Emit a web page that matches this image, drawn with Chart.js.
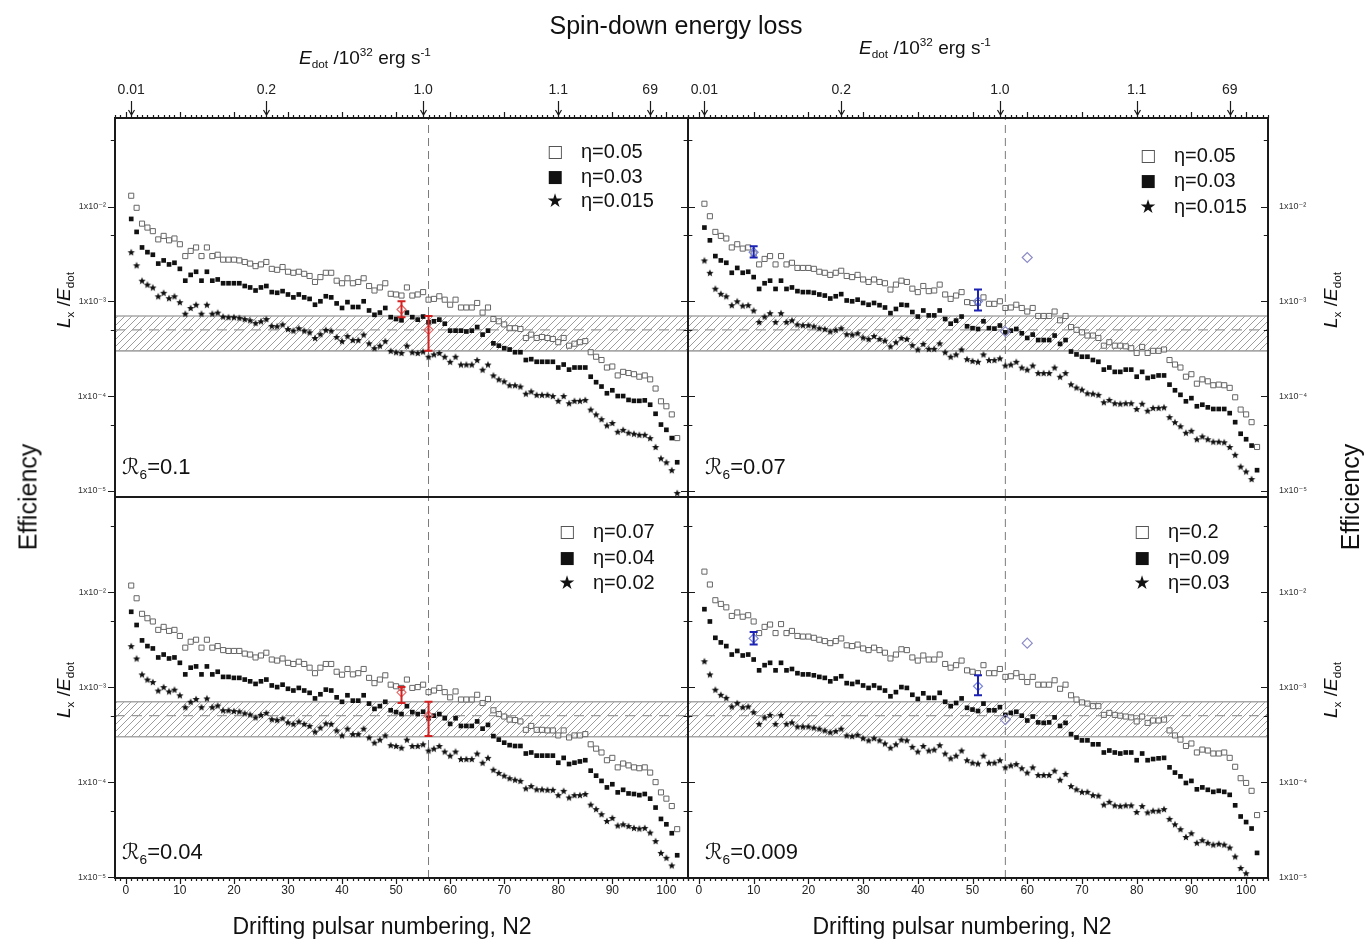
<!DOCTYPE html>
<html>
<head>
<meta charset="utf-8">
<script src="https://cdn.jsdelivr.net/npm/chart.js@4.4.0/dist/chart.umd.min.js"></script>
<style>
  body { margin: 0; background: #fff; }
  #page { position: relative; width: 1368px; height: 951px; overflow: hidden;
          font-family: 'Liberation Sans', Arial, 'DejaVu Sans', sans-serif; color: #111; }
  canvas.panel { position: absolute; left: 0; top: 0; }
  .txt { position: absolute; white-space: nowrap; line-height: 1; }
  .c { transform: translate(-50%, -50%); }
  .v { transform: translate(-50%, -50%) rotate(-90deg); }
  .l { transform: translate(0, -50%); }
  .txt sub, .txt sup { font-size: 0.62em; line-height: 0; }
  .sym { font-family: 'DejaVu Sans', sans-serif; }
</style>
</head>
<body>
<div id="page">
  <canvas id="cTL" class="panel" width="1368" height="951"></canvas>
  <canvas id="cTR" class="panel" width="1368" height="951"></canvas>
  <canvas id="cBL" class="panel" width="1368" height="951"></canvas>
  <canvas id="cBR" class="panel" width="1368" height="951"></canvas>

  <div class="txt c" style="left:676px;top:25px;font-size:25px">Spin-down energy loss</div>
  <div class="txt c" style="left:365px;top:57px;font-size:19px"><i>E</i><sub>dot</sub> /10<sup>32</sup> erg s<sup>-1</sup></div>
  <div class="txt c" style="left:925px;top:47px;font-size:19px"><i>E</i><sub>dot</sub> /10<sup>32</sup> erg s<sup>-1</sup></div>

  <div class="txt v" style="left:28px;top:497px;font-size:25px">Efficiency</div>
  <div class="txt v" style="left:1350px;top:497px;font-size:25px">Efficiency</div>
  <div class="txt v" style="left:63px;top:300px;font-size:19px"><i>L</i><sub>x</sub> /<i>E</i><sub>dot</sub></div>
  <div class="txt v" style="left:63px;top:690px;font-size:19px"><i>L</i><sub>x</sub> /<i>E</i><sub>dot</sub></div>
  <div class="txt v" style="left:1330px;top:300px;font-size:19px"><i>L</i><sub>x</sub> /<i>E</i><sub>dot</sub></div>
  <div class="txt v" style="left:1330px;top:690px;font-size:19px"><i>L</i><sub>x</sub> /<i>E</i><sub>dot</sub></div>

  <div class="txt c" style="left:382px;top:926px;font-size:23px">Drifting pulsar numbering, N2</div>
  <div class="txt c" style="left:962px;top:926px;font-size:23px">Drifting pulsar numbering, N2</div>

  <div class="txt l" style="left:122px;top:467px;font-size:22px"><span class="sym"><i>ℛ</i></span><sub>6</sub>=0.1</div>
  <div class="txt l" style="left:705px;top:467px;font-size:22px"><span class="sym"><i>ℛ</i></span><sub>6</sub>=0.07</div>
  <div class="txt l" style="left:122px;top:852px;font-size:22px"><span class="sym"><i>ℛ</i></span><sub>6</sub>=0.04</div>
  <div class="txt l" style="left:705px;top:852px;font-size:22px"><span class="sym"><i>ℛ</i></span><sub>6</sub>=0.009</div>
</div>

<script>
const FONT = "'Liberation Sans', Arial, 'DejaVu Sans', sans-serif";
Chart.defaults.font.family = FONT;

// x: drifting pulsar numbering N2, one point per pulsar
const pulsarN = Array.from({ length: 102 }, (_, i) => i + 1);

// axes
const xMin = -2, xMax = 104;
const yRangeTop = [8.6e-6, 8.6e-2];
const yRangeBottom = [9.8e-6, 1.0e-1];
const xTickValues = [0, 10, 20, 30, 40, 50, 60, 70, 80, 90, 100];
const yTickValues = [1e-5, 1e-4, 1e-3, 1e-2];
const yTickLabels = ['1x10⁻⁵', '1x10⁻⁴', '1x10⁻³', '1x10⁻²'];
const yMinorValues = [5e-5, 5e-4, 5e-3, 5e-2];

// top axis: spin-down energy loss Edot / 1e32 erg/s
const edotTickN = [1, 26, 55, 80, 97];
const edotTickLabels = ['0.01', '0.2', '1.0', '1.1', '69'];

// hatched band and reference line
const bandLevels = [3e-4, 5e-4, 7e-4];
const edotRefN = 56;

// ---- panel R6=0.1 ----
const tlEta = ['η=0.05', 'η=0.03', 'η=0.015'];
const tlOpen = [1.3e-2, 9.7e-3, 6.6e-3, 6.0e-3, 5.5e-3, 4.5e-3, 4.9e-3, 4.4e-3, 4.6e-3, 4.0e-3,
  3.0e-3, 3.4e-3, 3.7e-3, 3.0e-3, 3.7e-3, 3.0e-3, 3.1e-3, 2.75e-3, 2.75e-3, 2.75e-3,
  2.7e-3, 2.6e-3, 2.5e-3, 2.35e-3, 2.45e-3, 2.6e-3, 2.2e-3, 2.15e-3, 2.3e-3, 2.05e-3,
  2.0e-3, 2.05e-3, 1.95e-3, 1.85e-3, 1.6e-3, 1.8e-3, 2.0e-3, 2.0e-3, 1.65e-3, 1.55e-3,
  1.75e-3, 1.55e-3, 1.6e-3, 1.75e-3, 1.45e-3, 1.3e-3, 1.4e-3, 1.55e-3, 1.2e-3, 1.18e-3,
  1.15e-3, 1.4e-3, 1.15e-3, 1.18e-3, 1.25e-3, 1.04e-3, 1.06e-3, 1.13e-3, 1.04e-3, 9.2e-4,
  1.04e-3, 8.6e-4, 8.6e-4, 8.6e-4, 9.6e-4, 7.6e-4, 8.6e-4, 6.5e-4, 6.15e-4, 5.7e-4,
  5.2e-4, 5.2e-4, 5.1e-4, 4.1e-4, 4.45e-4, 4.1e-4, 4.2e-4, 4.1e-4, 4.0e-4, 3.7e-4,
  4.1e-4, 3.4e-4, 3.57e-4, 3.7e-4, 3.8e-4, 2.9e-4, 2.6e-4, 2.4e-4, 2.0e-4, 2.05e-4,
  1.65e-4, 1.8e-4, 1.75e-4, 1.7e-4, 1.6e-4, 1.65e-4, 1.5e-4, 1.2e-4, 8.8e-5, 7.8e-5,
  6.4e-5, 3.6e-5];
const tlFilled = [7.4e-3, 5.4e-3, 3.7e-3, 3.3e-3, 3.1e-3, 2.5e-3, 2.7e-3, 2.45e-3, 2.55e-3, 2.2e-3,
  1.65e-3, 1.9e-3, 2.05e-3, 1.65e-3, 2.05e-3, 1.65e-3, 1.7e-3, 1.55e-3, 1.55e-3, 1.55e-3,
  1.55e-3, 1.45e-3, 1.4e-3, 1.3e-3, 1.4e-3, 1.45e-3, 1.25e-3, 1.23e-3, 1.28e-3, 1.18e-3,
  1.1e-3, 1.18e-3, 1.1e-3, 1.06e-3, 9.2e-4, 1.0e-3, 1.13e-3, 1.1e-3, 9.5e-4, 8.5e-4,
  9.8e-4, 8.7e-4, 8.7e-4, 1.0e-3, 8.0e-4, 7.2e-4, 7.6e-4, 8.5e-4, 6.8e-4, 6.5e-4,
  6.3e-4, 7.6e-4, 6.8e-4, 6.4e-4, 6.9e-4, 6.0e-4, 6.15e-4, 6.4e-4, 5.8e-4, 4.9e-4,
  4.9e-4, 4.9e-4, 4.8e-4, 4.9e-4, 5.35e-4, 4.45e-4, 4.9e-4, 3.6e-4, 3.4e-4, 3.2e-4,
  3.1e-4, 2.9e-4, 2.9e-4, 2.4e-4, 2.45e-4, 2.3e-4, 2.3e-4, 2.3e-4, 2.3e-4, 2.0e-4,
  2.15e-4, 1.9e-4, 2.0e-4, 2.0e-4, 2.0e-4, 1.6e-4, 1.4e-4, 1.26e-4, 1.07e-4, 1.15e-4,
  1.0e-4, 1.0e-4, 9.1e-5, 8.9e-5, 8.9e-5, 9.0e-5, 8.1e-5, 6.5e-5, 5.0e-5, 4.4e-5,
  3.6e-5, 2.0e-5];
const tlStar = [3.3e-3, 2.4e-3, 1.65e-3, 1.5e-3, 1.4e-3, 1.13e-3, 1.23e-3, 1.08e-3, 1.13e-3, 9.8e-4,
  7.4e-4, 8.5e-4, 9.2e-4, 7.4e-4, 9.2e-4, 7.4e-4, 7.6e-4, 6.9e-4, 6.8e-4, 6.8e-4,
  6.7e-4, 6.5e-4, 6.3e-4, 5.9e-4, 6.15e-4, 6.5e-4, 5.5e-4, 5.45e-4, 5.7e-4, 5.1e-4,
  4.9e-4, 5.2e-4, 4.9e-4, 4.7e-4, 4.1e-4, 4.5e-4, 5.0e-4, 4.9e-4, 4.2e-4, 3.8e-4,
  4.3e-4, 3.9e-4, 3.9e-4, 4.45e-4, 3.6e-4, 3.2e-4, 3.4e-4, 3.8e-4, 3.0e-4, 2.9e-4,
  2.85e-4, 3.4e-4, 2.9e-4, 2.85e-4, 2.95e-4, 2.6e-4, 2.75e-4, 2.85e-4, 2.6e-4, 2.3e-4,
  2.6e-4, 2.15e-4, 2.15e-4, 2.15e-4, 2.4e-4, 1.9e-4, 2.15e-4, 1.65e-4, 1.5e-4, 1.43e-4,
  1.3e-4, 1.3e-4, 1.26e-4, 1.06e-4, 1.12e-4, 1.03e-4, 1.03e-4, 1.03e-4, 1.0e-4, 8.9e-5,
  1.0e-4, 8.4e-5, 8.9e-5, 8.9e-5, 9.1e-5, 7.2e-5, 6.4e-5, 5.7e-5, 4.9e-5, 5.2e-5,
  4.2e-5, 4.4e-5, 4.1e-5, 4.0e-5, 3.9e-5, 3.9e-5, 3.6e-5, 2.9e-5, 2.2e-5, 2.0e-5,
  1.65e-5, 9.5e-6];

// ---- panel R6=0.07 ----
const trEta = ['η=0.05', 'η=0.03', 'η=0.015'];
const trOpen = [1.07e-2, 7.9e-3, 5.4e-3, 4.9e-3, 4.6e-3, 3.7e-3, 4.0e-3, 3.6e-3, 3.7e-3, 3.2e-3,
  2.45e-3, 2.8e-3, 3.0e-3, 2.45e-3, 3.0e-3, 2.45e-3, 2.55e-3, 2.25e-3, 2.25e-3, 2.25e-3,
  2.2e-3, 2.05e-3, 2.0e-3, 1.9e-3, 2.0e-3, 2.1e-3, 1.85e-3, 1.8e-3, 1.9e-3, 1.7e-3,
  1.6e-3, 1.7e-3, 1.6e-3, 1.55e-3, 1.33e-3, 1.5e-3, 1.65e-3, 1.6e-3, 1.36e-3, 1.25e-3,
  1.45e-3, 1.28e-3, 1.3e-3, 1.5e-3, 1.18e-3, 1.06e-3, 1.15e-3, 1.25e-3, 9.8e-4, 9.6e-4,
  9.6e-4, 1.1e-3, 9.4e-4, 9.4e-4, 1.0e-3, 8.5e-4, 8.6e-4, 9.2e-4, 8.5e-4, 7.8e-4,
  8.5e-4, 7.0e-4, 7.0e-4, 7.0e-4, 7.8e-4, 6.3e-4, 7.0e-4, 5.35e-4, 5.0e-4, 4.7e-4,
  4.35e-4, 4.35e-4, 4.1e-4, 3.4e-4, 3.7e-4, 3.4e-4, 3.4e-4, 3.35e-4, 3.2e-4, 2.85e-4,
  3.3e-4, 2.85e-4, 3.0e-4, 3.0e-4, 3.1e-4, 2.4e-4, 2.15e-4, 2.0e-4, 1.6e-4, 1.7e-4,
  1.35e-4, 1.5e-4, 1.43e-4, 1.3e-4, 1.32e-4, 1.3e-4, 1.22e-4, 9.7e-5, 7.2e-5, 6.4e-5,
  5.3e-5, 2.9e-5];
const trFilled = [6.0e-3, 4.4e-3, 3.0e-3, 2.7e-3, 2.55e-3, 2.0e-3, 2.25e-3, 2.0e-3, 2.05e-3, 1.8e-3,
  1.35e-3, 1.55e-3, 1.65e-3, 1.35e-3, 1.65e-3, 1.35e-3, 1.4e-3, 1.28e-3, 1.25e-3, 1.25e-3,
  1.23e-3, 1.18e-3, 1.15e-3, 1.07e-3, 1.13e-3, 1.19e-3, 1.02e-3, 1.0e-3, 1.04e-3, 9.6e-4,
  9.2e-4, 9.6e-4, 9.1e-4, 8.6e-4, 7.5e-4, 8.3e-4, 9.2e-4, 9.1e-4, 7.7e-4, 6.9e-4,
  8.0e-4, 7.1e-4, 7.1e-4, 8.0e-4, 6.5e-4, 5.8e-4, 6.25e-4, 6.9e-4, 5.45e-4, 5.2e-4,
  5.1e-4, 6.15e-4, 5.2e-4, 5.15e-4, 5.55e-4, 4.7e-4, 4.9e-4, 5.1e-4, 4.6e-4, 4.1e-4,
  4.45e-4, 3.9e-4, 3.9e-4, 3.9e-4, 4.35e-4, 3.55e-4, 3.9e-4, 2.95e-4, 2.75e-4, 2.6e-4,
  2.6e-4, 2.4e-4, 2.3e-4, 1.9e-4, 2.0e-4, 1.8e-4, 1.8e-4, 1.9e-4, 1.9e-4, 1.6e-4,
  1.8e-4, 1.55e-4, 1.6e-4, 1.65e-4, 1.65e-4, 1.32e-4, 1.15e-4, 1.03e-4, 8.8e-5, 9.5e-5,
  7.8e-5, 8.1e-5, 7.6e-5, 7.3e-5, 7.3e-5, 7.3e-5, 6.6e-5, 5.3e-5, 4.0e-5, 3.5e-5,
  3.0e-5, 1.65e-5];
const trStar = [2.7e-3, 2.0e-3, 1.36e-3, 1.2e-3, 1.13e-3, 9.1e-4, 1.0e-3, 9.0e-4, 9.1e-4, 8.0e-4,
  6.05e-4, 6.9e-4, 7.5e-4, 6.05e-4, 7.5e-4, 6.05e-4, 6.3e-4, 5.7e-4, 5.6e-4, 5.6e-4,
  5.45e-4, 5.2e-4, 5.1e-4, 4.8e-4, 5.0e-4, 5.2e-4, 4.5e-4, 4.45e-4, 4.6e-4, 4.15e-4,
  4.0e-4, 4.3e-4, 4.0e-4, 3.85e-4, 3.35e-4, 3.7e-4, 4.1e-4, 4.0e-4, 3.45e-4, 3.1e-4,
  3.55e-4, 3.15e-4, 3.15e-4, 3.6e-4, 2.9e-4, 2.6e-4, 2.75e-4, 3.1e-4, 2.45e-4, 2.35e-4,
  2.3e-4, 2.75e-4, 2.4e-4, 2.4e-4, 2.5e-4, 2.1e-4, 2.15e-4, 2.3e-4, 2.0e-4, 1.9e-4,
  2.1e-4, 1.75e-4, 1.75e-4, 1.75e-4, 2.0e-4, 1.6e-4, 1.75e-4, 1.33e-4, 1.23e-4, 1.17e-4,
  1.07e-4, 1.06e-4, 1.03e-4, 8.6e-5, 9.1e-5, 8.4e-5, 8.3e-5, 8.4e-5, 8.4e-5, 7.3e-5,
  8.3e-5, 7.0e-5, 7.5e-5, 7.5e-5, 7.6e-5, 6.0e-5, 5.3e-5, 4.8e-5, 4.1e-5, 4.3e-5,
  3.5e-5, 3.75e-5, 3.5e-5, 3.3e-5, 3.3e-5, 3.25e-5, 2.9e-5, 2.4e-5, 1.8e-5, 1.6e-5,
  1.33e-5, null];

// ---- panel R6=0.04 ----
const blEta = ['η=0.07', 'η=0.04', 'η=0.02'];
const blOpen = [1.17e-2, 8.6e-3, 5.9e-3, 5.3e-3, 4.9e-3, 4.0e-3, 4.3e-3, 3.9e-3, 4.0e-3, 3.45e-3,
  2.6e-3, 3.0e-3, 3.15e-3, 2.6e-3, 3.15e-3, 2.6e-3, 2.7e-3, 2.45e-3, 2.4e-3, 2.4e-3,
  2.4e-3, 2.25e-3, 2.2e-3, 2.05e-3, 2.15e-3, 2.3e-3, 1.95e-3, 1.9e-3, 2.0e-3, 1.8e-3,
  1.75e-3, 1.85e-3, 1.75e-3, 1.6e-3, 1.4e-3, 1.6e-3, 1.75e-3, 1.75e-3, 1.45e-3, 1.35e-3,
  1.55e-3, 1.36e-3, 1.4e-3, 1.55e-3, 1.25e-3, 1.1e-3, 1.2e-3, 1.33e-3, 1.06e-3, 1.02e-3,
  9.8e-4, 1.2e-3, 9.8e-4, 1.0e-3, 1.06e-3, 8.85e-4, 9.2e-4, 9.8e-4, 8.85e-4, 7.8e-4,
  9.0e-4, 7.4e-4, 7.4e-4, 7.4e-4, 8.3e-4, 6.8e-4, 7.5e-4, 5.7e-4, 5.2e-4, 4.9e-4,
  4.55e-4, 4.5e-4, 4.35e-4, 3.55e-4, 3.9e-4, 3.55e-4, 3.55e-4, 3.5e-4, 3.5e-4, 3.1e-4,
  3.5e-4, 2.95e-4, 3.1e-4, 3.1e-4, 3.2e-4, 2.5e-4, 2.25e-4, 2.05e-4, 1.7e-4, 1.8e-4,
  1.43e-4, 1.57e-4, 1.5e-4, 1.43e-4, 1.4e-4, 1.43e-4, 1.26e-4, 1.0e-4, 7.8e-5, 6.7e-5,
  5.6e-5, 3.2e-5];
const blFilled = [6.2e-3, 4.5e-3, 3.1e-3, 2.7e-3, 2.55e-3, 2.05e-3, 2.2e-3, 2.0e-3, 2.05e-3, 1.8e-3,
  1.36e-3, 1.6e-3, 1.65e-3, 1.36e-3, 1.65e-3, 1.36e-3, 1.45e-3, 1.28e-3, 1.28e-3, 1.25e-3,
  1.25e-3, 1.2e-3, 1.15e-3, 1.08e-3, 1.15e-3, 1.2e-3, 1.04e-3, 1.0e-3, 1.06e-3, 9.6e-4,
  9.2e-4, 9.8e-4, 9.2e-4, 8.7e-4, 7.6e-4, 8.4e-4, 9.4e-4, 9.2e-4, 7.8e-4, 7.0e-4,
  8.2e-4, 7.2e-4, 7.2e-4, 8.2e-4, 6.7e-4, 5.9e-4, 6.3e-4, 7.0e-4, 5.7e-4, 5.45e-4,
  5.2e-4, 6.3e-4, 5.45e-4, 5.2e-4, 5.5e-4, 4.7e-4, 5.0e-4, 5.2e-4, 4.7e-4, 4.1e-4,
  4.7e-4, 3.9e-4, 3.9e-4, 3.9e-4, 4.35e-4, 3.65e-4, 4.0e-4, 3.05e-4, 2.8e-4, 2.6e-4,
  2.45e-4, 2.4e-4, 2.4e-4, 2.0e-4, 2.05e-4, 1.9e-4, 1.9e-4, 1.9e-4, 1.9e-4, 1.6e-4,
  1.8e-4, 1.55e-4, 1.6e-4, 1.65e-4, 1.7e-4, 1.32e-4, 1.17e-4, 1.03e-4, 8.8e-5, 9.5e-5,
  7.8e-5, 8.3e-5, 7.6e-5, 7.5e-5, 7.3e-5, 7.5e-5, 6.7e-5, 5.4e-5, 4.1e-5, 3.6e-5,
  2.9e-5, 1.7e-5];
const blStar = [2.7e-3, 2.0e-3, 1.36e-3, 1.2e-3, 1.13e-3, 9.2e-4, 1.0e-3, 9.0e-4, 9.4e-4, 8.2e-4,
  6.15e-4, 7.0e-4, 7.5e-4, 6.15e-4, 7.6e-4, 6.15e-4, 6.4e-4, 5.7e-4, 5.7e-4, 5.6e-4,
  5.55e-4, 5.3e-4, 5.15e-4, 4.8e-4, 5.1e-4, 5.35e-4, 4.6e-4, 4.5e-4, 4.7e-4, 4.25e-4,
  4.1e-4, 4.35e-4, 4.1e-4, 3.9e-4, 3.4e-4, 3.75e-4, 4.15e-4, 4.1e-4, 3.5e-4, 3.1e-4,
  3.65e-4, 3.2e-4, 3.2e-4, 3.65e-4, 2.95e-4, 2.6e-4, 2.8e-4, 3.1e-4, 2.45e-4, 2.4e-4,
  2.3e-4, 2.8e-4, 2.4e-4, 2.4e-4, 2.5e-4, 2.15e-4, 2.25e-4, 2.4e-4, 2.1e-4, 1.9e-4,
  2.1e-4, 1.75e-4, 1.75e-4, 1.75e-4, 2.0e-4, 1.6e-4, 1.8e-4, 1.35e-4, 1.25e-4, 1.17e-4,
  1.1e-4, 1.06e-4, 1.03e-4, 8.6e-5, 9.1e-5, 8.4e-5, 8.4e-5, 8.3e-5, 8.3e-5, 7.3e-5,
  8.1e-5, 6.9e-5, 7.3e-5, 7.3e-5, 7.5e-5, 5.8e-5, 5.2e-5, 4.6e-5, 3.9e-5, 4.2e-5,
  3.5e-5, 3.6e-5, 3.45e-5, 3.3e-5, 3.25e-5, 3.3e-5, 2.95e-5, 2.4e-5, 1.8e-5, 1.6e-5,
  1.33e-5, null];

// ---- panel R6=0.009 ----
const brEta = ['η=0.2', 'η=0.09', 'η=0.03'];
const brOpen = [1.64e-2, 1.2e-2, 8.2e-3, 7.5e-3, 6.9e-3, 5.6e-3, 6.1e-3, 5.5e-3, 5.7e-3, 4.9e-3,
  3.7e-3, 4.3e-3, 4.55e-3, 3.7e-3, 4.6e-3, 3.7e-3, 3.9e-3, 3.45e-3, 3.4e-3, 3.4e-3,
  3.3e-3, 3.15e-3, 3.05e-3, 2.9e-3, 3.05e-3, 3.25e-3, 2.75e-3, 2.7e-3, 2.8e-3, 2.55e-3,
  2.45e-3, 2.6e-3, 2.45e-3, 2.3e-3, 2.0e-3, 2.2e-3, 2.5e-3, 2.45e-3, 2.05e-3, 1.9e-3,
  2.15e-3, 1.95e-3, 1.95e-3, 2.2e-3, 1.75e-3, 1.6e-3, 1.7e-3, 1.9e-3, 1.5e-3, 1.45e-3,
  1.4e-3, 1.7e-3, 1.4e-3, 1.4e-3, 1.55e-3, 1.28e-3, 1.3e-3, 1.4e-3, 1.28e-3, 1.13e-3,
  1.28e-3, 1.06e-3, 1.06e-3, 1.06e-3, 1.18e-3, 9.6e-4, 1.06e-3, 8.2e-4, 7.4e-4, 6.9e-4,
  6.7e-4, 6.3e-4, 6.3e-4, 5.1e-4, 5.35e-4, 5.1e-4, 5.0e-4, 4.9e-4, 4.8e-4, 4.35e-4,
  4.9e-4, 4.2e-4, 4.45e-4, 4.45e-4, 4.55e-4, 3.5e-4, 3.1e-4, 2.8e-4, 2.4e-4, 2.55e-4,
  2.05e-4, 2.2e-4, 2.15e-4, 2.0e-4, 2.0e-4, 2.05e-4, 1.8e-4, 1.45e-4, 1.1e-4, 9.8e-5,
  8.1e-5, 4.5e-5];
const brFilled = [6.6e-3, 4.9e-3, 3.3e-3, 2.95e-3, 2.7e-3, 2.2e-3, 2.4e-3, 2.15e-3, 2.2e-3, 1.95e-3,
  1.5e-3, 1.7e-3, 1.8e-3, 1.5e-3, 1.8e-3, 1.5e-3, 1.55e-3, 1.4e-3, 1.36e-3, 1.36e-3,
  1.33e-3, 1.28e-3, 1.25e-3, 1.15e-3, 1.23e-3, 1.3e-3, 1.1e-3, 1.08e-3, 1.13e-3, 1.04e-3,
  9.8e-4, 1.04e-3, 9.8e-4, 9.2e-4, 8.0e-4, 8.85e-4, 1.0e-3, 9.8e-4, 8.3e-4, 7.5e-4,
  8.6e-4, 7.7e-4, 7.7e-4, 8.7e-4, 7.0e-4, 6.3e-4, 6.8e-4, 7.6e-4, 6.05e-4, 5.8e-4,
  5.6e-4, 6.7e-4, 5.7e-4, 5.7e-4, 6.15e-4, 5.1e-4, 5.35e-4, 5.5e-4, 5.0e-4, 4.45e-4,
  4.9e-4, 4.25e-4, 4.2e-4, 4.25e-4, 4.8e-4, 3.9e-4, 4.2e-4, 3.2e-4, 2.95e-4, 2.75e-4,
  2.75e-4, 2.5e-4, 2.5e-4, 2.05e-4, 2.15e-4, 2.05e-4, 2.0e-4, 2.05e-4, 2.05e-4, 1.7e-4,
  2.0e-4, 1.7e-4, 1.75e-4, 1.78e-4, 1.8e-4, 1.43e-4, 1.26e-4, 1.15e-4, 9.8e-5, 1.03e-4,
  8.4e-5, 8.8e-5, 8.3e-5, 7.9e-5, 8.1e-5, 7.9e-5, 7.35e-5, 5.7e-5, 4.35e-5, 3.8e-5,
  3.25e-5, 1.8e-5];
const brStar = [1.87e-3, 1.36e-3, 9.4e-4, 8.3e-4, 7.7e-4, 6.25e-4, 6.8e-4, 6.15e-4, 6.25e-4, 5.45e-4,
  4.1e-4, 4.8e-4, 5.1e-4, 4.1e-4, 5.1e-4, 4.1e-4, 4.25e-4, 3.85e-4, 3.85e-4, 3.85e-4,
  3.75e-4, 3.65e-4, 3.5e-4, 3.35e-4, 3.45e-4, 3.65e-4, 3.1e-4, 3.05e-4, 3.15e-4, 2.9e-4,
  2.75e-4, 2.9e-4, 2.75e-4, 2.55e-4, 2.3e-4, 2.5e-4, 2.8e-4, 2.75e-4, 2.35e-4, 2.1e-4,
  2.4e-4, 2.15e-4, 2.2e-4, 2.45e-4, 2.0e-4, 1.78e-4, 1.9e-4, 2.15e-4, 1.7e-4, 1.6e-4,
  1.57e-4, 1.9e-4, 1.6e-4, 1.6e-4, 1.7e-4, 1.43e-4, 1.5e-4, 1.55e-4, 1.4e-4, 1.26e-4,
  1.43e-4, 1.19e-4, 1.19e-4, 1.19e-4, 1.32e-4, 1.06e-4, 1.22e-4, 9.1e-5, 8.4e-5, 7.9e-5,
  7.9e-5, 7.3e-5, 7.2e-5, 5.8e-5, 6.2e-5, 5.7e-5, 5.6e-5, 5.7e-5, 5.7e-5, 4.85e-5,
  5.6e-5, 4.8e-5, 5.0e-5, 5.0e-5, 5.2e-5, 4.1e-5, 3.6e-5, 3.2e-5, 2.65e-5, 2.9e-5,
  2.3e-5, 2.45e-5, 2.3e-5, 2.2e-5, 2.25e-5, 2.2e-5, 2.05e-5, 1.65e-5, 1.25e-5, 1.1e-5,
  null, null];

// observed pulsars with error bars
const redErrN = [51, 56];
const tlErrMid = [8.2e-4, 5.0e-4], tlErrLo = [6.8e-4, 3.0e-4], tlErrHi = [1.0e-3, 7.0e-4];
const blErrMid = [8.8e-4, 5.0e-4], blErrLo = [6.8e-4, 3.05e-4], blErrHi = [1.0e-3, 7.0e-4];
const blueErrN = [10, 51];
const trErrMid = [3.3e-3, 1.0e-3], trErrLo = [2.9e-3, 8.0e-4], trErrHi = [3.8e-3, 1.33e-3];
const brErrMid = [3.25e-3, 1.02e-3], brErrLo = [2.8e-3, 8.2e-4], brErrHi = [3.8e-3, 1.33e-3];
// single diamonds in the right panels
const extraN = [56, 60];
const trExtra = [4.8e-4, 2.9e-3];
const brExtra = [4.55e-4, 2.9e-3];

// filled star marker
function makeStar(r, color) {
  const s = Math.ceil(r * 2 + 2);
  const c = document.createElement('canvas');
  c.width = s; c.height = s;
  const g = c.getContext('2d');
  g.fillStyle = color;
  g.beginPath();
  for (let i = 0; i < 10; i++) {
    const rad = i % 2 === 0 ? r : r * 0.45;
    const ang = -Math.PI / 2 + i * Math.PI / 5;
    const px = s / 2 + rad * Math.cos(ang), py = s / 2 + 0.4 + rad * Math.sin(ang);
    if (i === 0) g.moveTo(px, py); else g.lineTo(px, py);
  }
  g.closePath();
  g.fill();
  return c;
}
const starImg = makeStar(3.8, '#111');

// diagonal hatch for the band
function makeHatch() {
  const c = document.createElement('canvas');
  c.width = 7; c.height = 7;
  const g = c.getContext('2d');
  g.strokeStyle = '#9c9c9c';
  g.lineWidth = 1;
  g.beginPath();
  g.moveTo(-1, 8); g.lineTo(8, -1);
  g.stroke();
  return g.createPattern(c, 'repeat');
}
const hatch = makeHatch();

// frame, tick combs and Edot arrows
const frameTicks = {
  id: 'frameTicks',
  afterDraw(chart, args, o) {
    const { ctx, chartArea: a } = chart;
    const x = chart.scales.x, y = chart.scales.y;
    ctx.save();
    ctx.strokeStyle = '#1a1a1a';
    ctx.lineWidth = 1.2;
    ctx.beginPath();
    for (let n = Math.ceil(x.min); n <= x.max; n++) {
      const px = Math.round(x.getPixelForValue(n)) + 0.5;
      const len = (n % 10 === 0 && n >= 0 && n <= 100) ? 6 : 3;
      if (o.comb === 'top') { ctx.moveTo(px, a.top); ctx.lineTo(px, a.top - len); }
      else { ctx.moveTo(px, a.bottom); ctx.lineTo(px, a.bottom + len); }
    }
    const side = (xe, spec) => {
      yTickValues.concat(yMinorValues).forEach(v => {
        if (v < y.min || v > y.max) return;
        const py = Math.round(y.getPixelForValue(v)) + 0.5;
        const k = yTickValues.includes(v) ? 1 : 0.6;
        ctx.moveTo(xe - spec[0] * k, py);
        ctx.lineTo(xe + spec[1] * k, py);
      });
    };
    side(a.left, o.left);
    side(a.right, o.right);
    ctx.stroke();

    if (o.arrows) {
      ctx.lineWidth = 1.2;
      ctx.beginPath();
      edotTickN.forEach(n => {
        const px = Math.round(x.getPixelForValue(n)) + 0.5;
        ctx.moveTo(px, a.top - 17); ctx.lineTo(px, a.top - 3);
        ctx.moveTo(px - 3, a.top - 8); ctx.lineTo(px, a.top - 3); ctx.lineTo(px + 3, a.top - 8);
      });
      ctx.stroke();
    }
    ctx.lineWidth = 2;
    ctx.strokeRect(a.left, a.top, a.right - a.left, a.bottom - a.top);
    ctx.restore();
  }
};

// vertical error bars on the observed pulsars
const errorBars = {
  id: 'errorBars',
  afterDatasetsDraw(chart) {
    const ctx = chart.ctx, y = chart.scales.y;
    chart.data.datasets.forEach((ds, i) => {
      if (!ds.errLo) return;
      const meta = chart.getDatasetMeta(i);
      ctx.save();
      ctx.strokeStyle = ds.barColor;
      ctx.lineWidth = 2;
      ctx.beginPath();
      meta.data.forEach((pt, j) => {
        const top = y.getPixelForValue(ds.errHi[j]);
        const bot = y.getPixelForValue(ds.errLo[j]);
        ctx.moveTo(pt.x, top); ctx.lineTo(pt.x, bot);
        ctx.moveTo(pt.x - 4, top); ctx.lineTo(pt.x + 4, top);
        ctx.moveTo(pt.x - 4, bot); ctx.lineTo(pt.x + 4, bot);
      });
      ctx.stroke();
      ctx.restore();
    });
  }
};

function toPoints(vals) {
  return vals.map((v, i) => ({ x: pulsarN[i], y: v }));
}

function makePanel(id, p) {
  const flat = v => [{ x: xMin, y: v }, { x: xMax, y: v }];
  const datasets = [
    { label: 'errors', data: p.errN.map((n, i) => ({ x: n, y: p.errMid[i] })),
      errLo: p.errLo, errHi: p.errHi, barColor: p.barColor,
      pointStyle: 'rectRot', pointRadius: 4.5, pointBorderColor: p.diamondColor,
      pointBackgroundColor: 'rgba(0,0,0,0)', pointBorderWidth: 1.2, order: 0 },
    { label: 'extra', data: p.extraN.map((n, i) => ({ x: n, y: p.extra[i] })),
      pointStyle: 'rectRot', pointRadius: 5, pointBorderColor: '#8c8cc8',
      pointBackgroundColor: 'rgba(0,0,0,0)', pointBorderWidth: 1.2, order: 1 },
    { label: p.eta[2], data: toPoints(p.star), pointStyle: starImg, pointRadius: 4, order: 2 },
    { label: p.eta[1], data: toPoints(p.filled), pointStyle: 'rect', pointRadius: 3.3,
      pointBackgroundColor: '#111', pointBorderColor: '#111', pointBorderWidth: 0, order: 3 },
    { label: p.eta[0], data: toPoints(p.open), pointStyle: 'rect', pointRadius: 3.6,
      pointBackgroundColor: 'rgba(255,255,255,0.6)', pointBorderColor: '#666', pointBorderWidth: 1, order: 4 },
    { type: 'line', label: 'Edot ref', data: [{ x: edotRefN, y: p.yRange[0] }, { x: edotRefN, y: p.yRange[1] }],
      borderColor: '#7a7a7a', borderWidth: 1, borderDash: [8, 5], pointRadius: 0, order: 5 },
    { type: 'line', label: 'band mid', data: flat(bandLevels[1]),
      borderColor: '#9a9a9a', borderWidth: 1.2, borderDash: [10, 7], pointRadius: 0, order: 6 },
    { type: 'line', label: 'band top', data: flat(bandLevels[2]), fill: '+1', backgroundColor: hatch,
      borderColor: '#a8a8a8', borderWidth: 1.6, pointRadius: 0, order: 7 },
    { type: 'line', label: 'band bottom', data: flat(bandLevels[0]),
      borderColor: '#a8a8a8', borderWidth: 1.6, pointRadius: 0, order: 8 }
  ];

  const scales = {
    x: {
      type: 'linear', position: 'bottom', min: xMin, max: xMax, display: p.bottomLabels,
      afterBuildTicks: s => { s.ticks = xTickValues.map(v => ({ value: v })); },
      ticks: { font: { size: 12 }, color: '#222', padding: 5, maxRotation: 0, autoSkip: false },
      grid: { display: false, drawTicks: false }, border: { display: false }
    },
    y: {
      type: 'logarithmic', position: p.ySide, min: p.yRange[0], max: p.yRange[1],
      afterBuildTicks: s => { s.ticks = yTickValues.map(v => ({ value: v })); },
      ticks: { font: { size: 9 }, color: '#333', padding: p.ySide === 'left' ? 9 : 11, autoSkip: false,
               callback: (v, i) => yTickLabels[i] },
      grid: { display: false, drawTicks: false }, border: { display: false },
      afterFit: s => { s.width = 60; }
    }
  };
  if (p.bottomLabels) scales.x.afterFit = s => { s.height = 40; };
  if (p.edot) {
    scales.xTop = {
      type: 'linear', position: 'top', min: xMin, max: xMax,
      afterBuildTicks: s => { s.ticks = edotTickN.map(v => ({ value: v })); },
      ticks: { font: { size: 14 }, color: '#222', padding: 19, maxRotation: 0, autoSkip: false,
               callback: (v, i) => edotTickLabels[i] },
      grid: { display: false, drawTicks: false }, border: { display: false },
      afterFit: s => { s.height = 40; }
    };
  }

  return new Chart(document.getElementById(id).getContext('2d'), {
    type: 'scatter',
    data: { datasets },
    options: {
      responsive: false,
      devicePixelRatio: 1,
      animation: false,
      events: [],
      layout: { padding: p.padding },
      scales,
      plugins: {
        legend: { display: false },
        tooltip: { enabled: false },
        frameTicks: { comb: p.comb, left: p.left, right: p.right, arrows: p.edot }
      }
    },
    plugins: [frameTicks, errorBars]
  });
}

const panels = [
  { id: 'cTL', open: tlOpen, filled: tlFilled, star: tlStar, eta: tlEta, yRange: yRangeTop,
    errN: redErrN, errMid: tlErrMid, errLo: tlErrLo, errHi: tlErrHi, barColor: '#d42020', diamondColor: '#e46a6a',
    extraN: [], extra: [], ySide: 'left', edot: true, bottomLabels: false, comb: 'top',
    left: [7, 1], right: [7, 7], padding: { left: 55, right: 680, top: 78, bottom: 454 },
    legend: { x: 555, y: [151, 176, 200] } },
  { id: 'cTR', open: trOpen, filled: trFilled, star: trStar, eta: trEta, yRange: yRangeTop,
    errN: blueErrN, errMid: trErrMid, errLo: trErrLo, errHi: trErrHi, barColor: '#1c22b4', diamondColor: '#7a86d4',
    extraN: extraN, extra: trExtra, ySide: 'right', edot: true, bottomLabels: false, comb: 'top',
    left: [7, 7], right: [7, 0], padding: { left: 688, right: 40, top: 78, bottom: 454 },
    legend: { x: 1148, y: [155, 180, 206] } },
  { id: 'cBL', open: blOpen, filled: blFilled, star: blStar, eta: blEta, yRange: yRangeBottom,
    errN: redErrN, errMid: blErrMid, errLo: blErrLo, errHi: blErrHi, barColor: '#d42020', diamondColor: '#e46a6a',
    extraN: [], extra: [], ySide: 'left', edot: false, bottomLabels: true, comb: 'bottom',
    left: [7, 1], right: [7, 7], padding: { left: 55, right: 680, top: 497, bottom: 33 },
    legend: { x: 567, y: [531, 557, 582] } },
  { id: 'cBR', open: brOpen, filled: brFilled, star: brStar, eta: brEta, yRange: yRangeBottom,
    errN: blueErrN, errMid: brErrMid, errLo: brErrLo, errHi: brErrHi, barColor: '#1c22b4', diamondColor: '#7a86d4',
    extraN: extraN, extra: brExtra, ySide: 'right', edot: false, bottomLabels: true, comb: 'bottom',
    left: [7, 7], right: [7, 0], padding: { left: 688, right: 40, top: 497, bottom: 33 },
    legend: { x: 1142, y: [531, 557, 582] } }
];

// legend glyphs and labels inside each panel
const legendGlyphs = ['□', '■', '★'];
const page = document.getElementById('page');
panels.forEach(p => {
  makePanel(p.id, p);
  p.legend.y.forEach((yy, i) => {
    const g = document.createElement('div');
    g.className = 'txt c sym';
    g.style.cssText = `left:${p.legend.x}px;top:${yy}px;font-size:${i === 2 ? 19 : 17}px;color:${i === 0 ? '#555' : '#111'}`;
    g.textContent = legendGlyphs[i];
    page.appendChild(g);
    const t = document.createElement('div');
    t.className = 'txt l';
    t.style.cssText = `left:${p.legend.x + 26}px;top:${yy}px;font-size:20px`;
    t.textContent = p.eta[i];
    page.appendChild(t);
  });
});
</script>
</body>
</html>
